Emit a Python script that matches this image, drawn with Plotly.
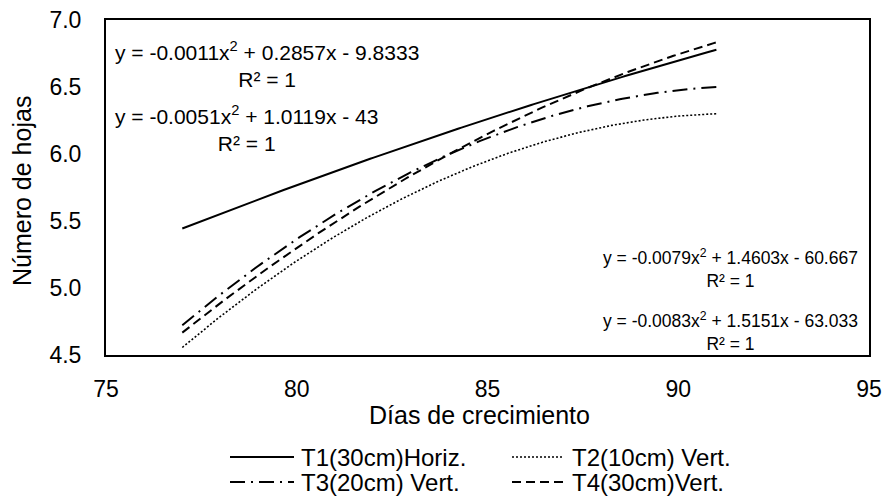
import numpy as np
import plotly.graph_objects as go

# Growth days sampled and mean number of leaves per treatment
days = [77, 84, 91]
t1_leaves = [5.444, 6.167, 6.778]
t2_leaves = [4.556, 5.833, 6.300]
t3_leaves = [4.722, 6.000, 6.500]
t4_leaves = [4.667, 6.000, 6.833]

series_names = ["T1(30cm)Horiz.", "T2(10cm) Vert.", "T3(20cm) Vert.", "T4(30cm)Vert."]
series_values = [t1_leaves, t2_leaves, t3_leaves, t4_leaves]
series_dash = ["solid", "2px,2px", "15px,6px,2px,6px", "9px,5px"]
series_width = [2, 1.6, 2, 2]

# Trendline equation labels (polynomial order 2)
eq_labels = [
    "y = -0.0011x<sup>2</sup> + 0.2857x - 9.8333",
    "y = -0.0083x<sup>2</sup> + 1.5151x - 63.033",
    "y = -0.0079x<sup>2</sup> + 1.4603x - 60.667",
    "y = -0.0051x<sup>2</sup> + 1.0119x - 43",
]
r2_label = "R² = 1"

FONT = "Liberation Sans, Arial, sans-serif"
W, H = 886, 496
plot_l, plot_r, plot_t, plot_b = 106, 869, 20, 355


def px(xp):
    return (xp - plot_l) / (plot_r - plot_l)


def py(yp):
    return (plot_b - yp) / (plot_b - plot_t)


fig = go.Figure()
for name, vals, dash, w in zip(series_names, series_values, series_dash, series_width):
    coefs = np.polyfit(days, vals, 2)
    xs = np.linspace(min(days), max(days), 200)
    ys = np.polyval(coefs, xs)
    fig.add_trace(go.Scatter(
        x=xs, y=ys, mode="lines", name=name,
        line=dict(color="black", width=w, dash=dash),
        hoverinfo="skip", showlegend=False,
    ))

# Trendline label blocks (equation over R², centred):
# (anchor x, xanchor, block centre y, font size)
label_pos = [
    (113, "left", 64, 21),
    (860, "right", 331, 17.5),
    (860, "right", 268, 17.5),
    (113, "left", 128, 21),
]

annotations = []
for text, (ex, anch, cy, fs) in zip(eq_labels, label_pos):
    annotations.append(dict(
        x=px(ex), y=py(cy), xref="paper", yref="paper",
        text=text + "<br>" + r2_label, align="center",
        xanchor=anch, yanchor="middle", showarrow=False,
        font=dict(family=FONT, size=fs, color="black"),
    ))

# Axis titles
annotations.append(dict(
    x=px(479), y=py(415), xref="paper", yref="paper", text="Días de crecimiento",
    xanchor="center", yanchor="middle", showarrow=False,
    font=dict(family=FONT, size=25, color="black"),
))
annotations.append(dict(
    x=px(22), y=py(191), xref="paper", yref="paper", text="Número de hojas",
    xanchor="center", yanchor="middle", showarrow=False, textangle=-90,
    font=dict(family=FONT, size=25, color="black"),
))

# Legend: two columns, two rows (sample line + label)
legend_cols = [(230, 294, 299), (512, 563, 570)]
legend_rows = [457, 482]
shapes = []
for i, (name, dash, w) in enumerate(zip(series_names, series_dash, series_width)):
    x0, x1, tx = legend_cols[i % 2]
    yy = legend_rows[i // 2]
    shapes.append(dict(
        type="line", xref="paper", yref="paper",
        x0=px(x0), x1=px(x1), y0=py(yy), y1=py(yy),
        line=dict(color="black", width=w, dash=dash),
    ))
    annotations.append(dict(
        x=px(tx), y=py(yy), xref="paper", yref="paper", text=name,
        xanchor="left", yanchor="middle", showarrow=False,
        font=dict(family=FONT, size=24, color="black"),
    ))

fig.update_layout(
    width=W, height=H,
    margin=dict(l=plot_l, r=W - plot_r, t=plot_t, b=H - plot_b, autoexpand=False),
    paper_bgcolor="white", plot_bgcolor="white",
    font=dict(family=FONT, size=23, color="black"),
    showlegend=False,
    annotations=annotations,
    shapes=shapes,
)
fig.update_xaxes(
    range=[75, 95], dtick=5, tick0=75, showgrid=False, zeroline=False,
    showline=True, linecolor="black", linewidth=2, mirror=True,
    ticks="", tickfont=dict(family=FONT, size=23), ticklabelstandoff=12,
    automargin=False,
)
fig.update_yaxes(
    range=[4.5, 7.0], dtick=0.5, tick0=4.5, tickformat=".1f", showgrid=False,
    zeroline=False, showline=True, linecolor="black", linewidth=2, mirror=True,
    ticks="", tickfont=dict(family=FONT, size=23), ticklabelstandoff=18,
    automargin=False,
)

fig.write_html("out.html")
